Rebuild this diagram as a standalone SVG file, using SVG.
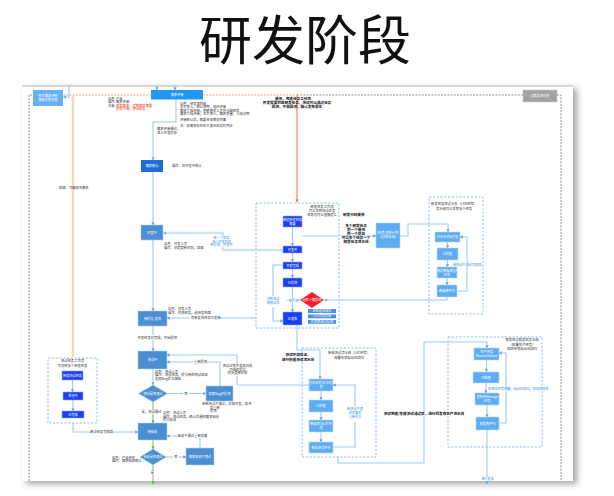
<svg xmlns="http://www.w3.org/2000/svg" width="614" height="496" viewBox="0 0 614 496">
<style>
text{font-family:"Noto Sans CJK SC","Noto Sans",sans-serif}
.t{font-size:3.3px;fill:#333}
.tb{font-size:3.6px;fill:#111;font-weight:700}
.tr{font-size:3.3px;fill:#e8332a}
.tbl{font-size:3.2px;fill:#3c8de0}
.w{font-size:3.2px;fill:#fff;text-anchor:middle}
.m{text-anchor:middle}
.bg{fill:#fff}
.c{fill:none;stroke:#9ecaf4;stroke-width:1.1;marker-end:url(#a)}
.cn{fill:none;stroke:#9ecaf4;stroke-width:1.1}
.ck{fill:none;stroke:#cfe3f8;stroke-width:2.4}
.cg{fill:none;stroke:#8cc45a;stroke-width:1.1;marker-end:url(#ag)}
.grp{fill:none;stroke:#7fb6ec;stroke-width:0.9;stroke-dasharray:2.2 1.6}
.sb{fill:#4b8fd3;stroke:#a9cdf0;stroke-width:0.6}
.lb{fill:#5eadf2;stroke:#b9dafa;stroke-width:0.6}
.db{fill:#1b3ef0;stroke:#8fb0f8;stroke-width:0.6}
</style>
<defs>
<marker id="a" viewBox="0 0 6 6" refX="5" refY="3" markerWidth="3" markerHeight="3" orient="auto"><path d="M0,0 L6,3 L0,6 z" fill="#6aa8ea"/></marker>
<marker id="ag" viewBox="0 0 6 6" refX="5" refY="3" markerWidth="3" markerHeight="3" orient="auto"><path d="M0,0 L6,3 L0,6 z" fill="#6cb33f"/></marker>
<marker id="ao" viewBox="0 0 6 6" refX="5" refY="3" markerWidth="3" markerHeight="3" orient="auto"><path d="M0,0 L6,3 L0,6 z" fill="#ef7c4e"/></marker>
<filter id="sh" x="-5%" y="-5%" width="112%" height="115%"><feDropShadow dx="4" dy="3" stdDeviation="3" flood-color="#000" flood-opacity="0.35"/></filter>
</defs>
<rect width="614" height="496" fill="#fff"/>
<text x="305" y="59.5" font-size="53" fill="#111" text-anchor="middle">研发阶段</text>
<rect x="22" y="85" width="551" height="396" fill="#fff" filter="url(#sh)"/>
<rect x="22" y="85" width="551" height="2" fill="#d8d8d8"/>
<g id="frame">
<path d="M29,481 V95 H33" fill="none" stroke="#888" stroke-width="0.9" stroke-dasharray="2 1.2"/>
<path d="M63,95 H151 M203,95 H297" fill="none" stroke="#d9a07a" stroke-width="0.9" stroke-dasharray="2 1.2"/>
<path d="M297,95 H523 M557,95 H561 V481" fill="none" stroke="#888" stroke-width="0.9" stroke-dasharray="2 1.2"/>
</g>
<g id="g-dev"><rect class="grp" x="256" y="203" width="83" height="125"/>
<text class="t m" x="322" y="208">研发任务工作流</text><text class="t m" x="322" y="212">可以关联测试任务</text><text class="t m" x="322" y="216">任务也可以直接建立</text></g>
<g id="g-lan"><rect class="grp" x="429" y="197" width="54" height="117"/>
<text class="t m" x="454" y="205">研发任务测试分支（LAN环境）</text><text class="t m" x="454" y="210">流水线可以关联多个任务</text></g>
<g id="g-test"><rect class="grp" x="48" y="358" width="49" height="65"/>
<text class="t m" x="72.5" y="362">测试任务工作流</text><text class="t m" x="72.5" y="366.5">可关联多个研发任务</text></g>
<g id="g-lat"><rect class="grp" x="302" y="348" width="74" height="109"/>
<text class="t m" x="349" y="354">集成测试流水线（LAT环境）</text><text class="t m" x="349" y="359">部署专项自动化回归</text></g>
<g id="g-prod"><rect class="grp" x="448" y="337" width="94" height="110"/>
<text class="t m" x="522" y="341">预发测试和发布流水线</text><text class="t m" x="522" y="345.5">（部署生产环境）</text><text class="t m" x="522" y="350">回测专项自动化回归</text></g>
<g id="connectors">
<path d="M73,95 V357" fill="none" stroke="#fbd8b2" stroke-width="2.4"/>
<path d="M297,95 V202" fill="none" stroke="#ef7c4e" stroke-width="1.1" marker-end="url(#ao)"/>
<path class="c" d="M69,85 V97 H63.5"/>
<path class="c" d="M157,85 V90"/>
<path class="c" d="M175,85 V90"/>
<path class="c" d="M176,99 V122 H153 V160"/>
<path class="c" d="M153,172 V225"/>
<path class="c" d="M153,240 V311"/>
<path class="ck" d="M283,250 H223 V233 H165"/>
<path d="M166,231.5 L163,233 L166,234.5 z" fill="#6aa8ea"/>
<path class="c" d="M256,318 H167"/>
<path class="c" d="M153,326 V351"/>
<path class="c" d="M292.5,227 V246"/>
<path class="c" d="M292.5,253 V262"/>
<path class="c" d="M292.5,269 V278"/>
<path class="c" d="M292.5,287 V312"/>
<path class="cn" d="M300,300 H292.5"/>
<path class="c" d="M283,265 H273 V321 H283"/>
<path class="c" d="M302,236 H376"/>
<path class="c" d="M400,236 H408 V224 H448 V232"/>
<path class="c" d="M447.5,242 V248"/>
<path class="c" d="M447.5,260 V267"/>
<path class="c" d="M447,278 V285"/>
<path class="c" d="M457,291 H467 V237 H460"/>
<path class="c" d="M447,297 V300 H324.5"/>
<path class="c" d="M297,325 V350 H320 V379"/>
<path class="c" d="M309,385 H237 V355 H167"/>
<path class="c" d="M220,386 V362 H167"/>
<path class="c" d="M153,369 V385"/>
<path class="c" d="M167.5,393.5 H206"/>
<path class="cg" d="M153,402 V423"/>
<path class="c" d="M73,423 V432 H138"/>
<path class="c" d="M200,448 V436 H167"/>
<path class="cg" d="M153,440 V449"/>
<path class="c" d="M166,457 H186"/>
<path class="cg" d="M153,465 V484"/>
<path class="c" d="M72.5,380 V392"/>
<path class="c" d="M73,400 V411"/>
<path class="c" d="M321,391 V400"/>
<path class="c" d="M321,412 V420"/>
<path class="c" d="M321,432 V442"/>
<path class="c" d="M333,447 H355 V385 H333"/>
<path class="c" d="M338,457 V463 H424 V342 H487 V348"/>
<path class="c" d="M486.5,360 V372"/>
<path class="c" d="M486,383 V393"/>
<path class="c" d="M487,405 V417"/>
<path class="c" d="M499,423 H506 V353 H499"/>
<path class="c" d="M487,430 V484"/>
</g>
<g id="n-tech"><rect x="33" y="90" width="30" height="16" fill="#66b0f5"/><text class="w" x="48" y="97">技术需求评审</text><text class="w" x="48" y="101">需要提前沟通</text></g>
<g id="n-review"><rect x="151" y="90" width="52" height="9.5" fill="#2196f3"/><text class="w" x="177" y="96">需求评审</text></g>
<g id="n-ops"><rect x="523" y="90" width="34" height="12" fill="#a3a3a3" stroke="#c8c8c8" stroke-width="0.6"/><text class="w" x="540" y="97">运维发布阶段</text></g>
<g id="n-confirm"><rect x="141" y="160" width="22" height="12" fill="#1d6fd8"/><text class="w" x="152" y="167">需求确认</text></g>
<g id="n-dev"><rect class="sb" x="141" y="225" width="22" height="15"/><text class="w" x="152" y="233.5">开发中</text></g>
<g id="n-pending"><rect class="sb" x="138" y="311" width="29" height="15"/><text class="w" x="152.5" y="319.5">待提交/发布</text></g>
<g id="n-testing"><rect class="sb" x="138" y="351" width="29" height="18"/><text class="w" x="152.5" y="361">测试中</text></g>
<g id="d-test"><polygon class="sb" points="153,385 167.5,393.5 153,402 138.5,393.5"/><text class="w" x="153" y="394.5">测试是否通过</text></g>
<g id="n-fix"><rect class="sb" x="206" y="386" width="27" height="15"/><text class="w" x="219.5" y="394.5">修复Bug并提测</text></g>
<g id="n-accept"><rect class="sb" x="138" y="423" width="29" height="17"/><text class="w" x="152.5" y="432.5">待验收</text></g>
<g id="d-accept"><polygon class="sb" points="153,449 166,457 153,465 140,457"/><text class="w" x="153" y="458">验收是否通过</text></g>
<g id="n-reject"><rect class="sb" x="186" y="448" width="28" height="17"/><text class="w" x="200" y="457.5">需求验收不通过</text></g>
<g id="n-d1"><rect class="db" x="283" y="216" width="19" height="11"/><text class="w" x="292.5" y="220.5">新建研发任务</text><text class="w" x="292.5" y="224.5">需要</text></g>
<g id="n-d2"><rect class="db" x="283" y="246" width="19" height="7"/><text class="w" x="292.5" y="250.8">开发中</text></g>
<g id="n-d3"><rect class="db" x="283" y="262" width="19" height="7"/><text class="w" x="292.5" y="266.8">开发完成</text></g>
<g id="n-d4"><rect class="db" x="283" y="278" width="19" height="9"/><text class="w" x="292.5" y="283.5">已提测</text></g>
<g id="n-d5"><rect class="db" x="283" y="312" width="19" height="13"/><text class="w" x="292.5" y="319.5">已发布</text></g>
<g id="d-red"><polygon points="312,292 324,300 312,308 300,300" fill="#f5222d"/><text class="w" x="312" y="301">是否一键提测</text></g>
<g id="n-bars"><rect x="308" y="309" width="28" height="4" fill="#4a90e2"/><text class="w" x="322" y="312">生成发布版本</text>
<rect x="308" y="314.5" width="28" height="3.8" fill="#4a90e2"/><text class="w" x="322" y="317.4">CI/CD流水线</text>
<rect x="308" y="320" width="28" height="3.8" fill="#4a90e2"/><text class="w" x="322" y="322.9">开发联调与提测</text></g>
<g id="n-plan"><rect class="lb" x="376" y="223" width="24" height="25"/><text class="w" x="388" y="234">新增/发布计划</text><text class="w" x="388" y="238">（QA流水线）</text></g>
<g id="n-l1"><rect class="lb" x="435" y="232" width="25" height="10"/><text class="w" x="447.5" y="238">代码合并&amp;打包</text></g>
<g id="n-l2"><rect class="lb" x="437" y="248" width="21" height="12"/><text class="w" x="447.5" y="255">UI检查</text></g>
<g id="n-l3"><rect class="lb" x="437" y="267" width="20" height="11"/><text class="w" x="447" y="271.5">新建数据库QA</text><text class="w" x="447" y="275.5">环境</text></g>
<g id="n-l4"><rect class="lb" x="437" y="285" width="20" height="12"/><text class="w" x="447" y="292">数据库环节</text></g>
<g id="n-t1"><rect class="db" x="62" y="371" width="21" height="9"/><text class="w" x="72.5" y="376.5">新建测试任务</text></g>
<g id="n-t2"><rect class="db" x="63" y="392" width="20" height="8"/><text class="w" x="73" y="397">处理中</text></g>
<g id="n-t3"><rect class="db" x="62" y="411" width="22" height="7"/><text class="w" x="73" y="415.5">已完成</text></g>
<g id="n-b1"><rect class="lb" x="309" y="379" width="24" height="12"/><text class="w" x="321" y="384">代码合并与LAT打</text><text class="w" x="321" y="388">包</text></g>
<g id="n-b2"><rect class="lb" x="309" y="400" width="24" height="12"/><text class="w" x="321" y="407">CI检查</text></g>
<g id="n-b3"><rect class="lb" x="309" y="420" width="24" height="12"/><text class="w" x="321" y="425">数据库与LAT环</text><text class="w" x="321" y="429">境</text></g>
<g id="n-b4"><rect class="lb" x="309" y="442" width="24" height="11"/><text class="w" x="321" y="448.5">集成测试环节</text></g>
<g id="n-c1"><rect class="lb" x="474" y="348" width="25" height="12"/><text class="w" x="486.5" y="353">生产环境</text><text class="w" x="486.5" y="357">Reconciliation</text></g>
<g id="n-c2"><rect class="lb" x="473" y="372" width="26" height="11"/><text class="w" x="486" y="378.5">UI检查</text></g>
<g id="n-c3"><rect class="lb" x="475" y="393" width="24" height="12"/><text class="w" x="487" y="398">发布到Manage</text><text class="w" x="487" y="402">环境</text></g>
<g id="n-c4"><rect class="lb" x="476" y="417" width="23" height="13"/><text class="w" x="487.5" y="424.5">预发布环节</text></g>
<g id="labels">
<text class="t" x="108" y="99.5">角色</text><text class="t" x="116" y="99.5">产品</text>
<text class="t" x="108" y="103">操作</text><text class="t" x="116" y="103">需求评审</text>
<text class="t" x="108" y="106.5">注意</text><text class="tr" x="116" y="106.5">研发需求、运维需求需要</text>
<text class="tr" x="116" y="110">提前沟通，保证研发</text>
<text class="t" x="180" y="104.5">角色：研发项目组</text>
<text class="t" x="180" y="108">总负责人，确认排期，组织评审</text>
<text class="t" x="180" y="111.5">需求文档评审，明确相关人员并分配任务</text>
<text class="t" x="180" y="115">需求文档评审，主负责人，需求质量，上线日期</text>
<text class="t" x="180" y="121">评审确认后，需要告知相关同事</text>
<text class="t" x="180" y="127">注：如需求存在较大变化应及时同步</text>
<rect class="bg" x="156" y="127" width="20" height="8"/>
<text class="t" x="157" y="130">需求评审通过，</text><text class="t" x="157" y="134">进入开发阶段</text>
<text class="t" x="172" y="167">操作：在开发中确认</text>
<text class="t" x="59" y="189">回滚、可能修改需求</text>
<text class="t" x="164" y="244.5">角色：开发人员</text>
<text class="t" x="164" y="248.5">操作：创建更新状态，回滚</text>
<rect class="bg" x="206" y="236" width="31" height="11"/>
<text class="tbl m" x="221.5" y="239">新一个任务</text><text class="tbl m" x="221.5" y="242.5">进入开发阶段</text><text class="tbl m" x="221.5" y="246">新提测、开发中</text>
<text class="t" x="168" y="310">角色：开发人员</text>
<text class="t" x="168" y="314">操作：提测任务，选择发布版</text>
<rect class="bg" x="190" y="316" width="27" height="4"/>
<text class="t" x="191" y="319.2">有新发布任务已发布</text>
<rect class="bg" x="137" y="335" width="33" height="4.5"/>
<text class="t" x="137.5" y="338.5">开发任务已完成，开始提测</text>
<rect class="bg" x="267" y="296" width="12" height="11"/>
<text class="tbl m" x="273" y="300">关联测试</text><text class="tbl m" x="273" y="304">单通过后</text>
<rect class="bg" x="286" y="298.5" width="12" height="4"/>
<text class="tbl m" x="292" y="301.5">一键提测</text>
<text class="tb" x="343" y="216">研发代码提审</text>
<text class="tb m" x="356" y="227">多个研发任务</text>
<text class="tb m" x="356" y="231">同一个提测</text>
<text class="tb m" x="356" y="235">同一个项目</text>
<text class="tb m" x="356" y="239">可以多个任务一个</text>
<text class="tb m" x="356" y="243">研发任务流水线</text>
<rect class="bg" x="458" y="262.5" width="18" height="4"/>
<text class="tbl m" x="467" y="265.5">若测试不通过可驳回</text>
<text class="tb" x="275" y="99.5">提测、完成任务工作流</text>
<text class="tb m" x="297" y="103.5">开发需要对应研发任务，测试可以通过任务</text>
<text class="tb m" x="297" y="107.5">回测，不做回测，确认发布版本</text>
<text class="tb m" x="298" y="356">测试环境验证，</text>
<text class="tb m" x="298" y="360.5">进行集成测试流水线</text>
<rect class="bg" x="225" y="364" width="25" height="12"/>
<text class="t m" x="237.5" y="367">测试过程中发现问题</text><text class="t m" x="237.5" y="370.5">可继续提交</text><text class="t m" x="237.5" y="374">同步更新状态</text>
<rect class="bg" x="194" y="360" width="13" height="4"/>
<text class="t m" x="200.5" y="363">重新提测</text>
<text class="t" x="155" y="372.5">角色：测试人员</text>
<text class="t" x="155" y="376">操作：测试任务，提交新的测试结果</text>
<text class="t" x="155" y="379.5">发现Bug提交缺陷</text>
<rect class="bg" x="183" y="391.5" width="6" height="4"/>
<text class="t m" x="186" y="394.7">否</text>
<text class="t" x="202" y="405">若新测试不通过，返回开发，修改</text>
<text class="t" x="210" y="408.5">后重新</text>
<text class="t" x="210" y="412">提测</text>
<rect class="bg" x="142" y="410" width="19" height="4"/>
<text class="t m" x="151.5" y="413">是，测试通过</text>
<text class="t" x="163" y="414">角色：测试人员</text>
<text class="t" x="163" y="417.5">操作：测试任务，确认后通知需求验收</text>
<text class="t" x="163" y="421">提交验收</text>
<rect class="bg" x="92" y="430" width="19" height="4"/>
<text class="t m" x="101.5" y="433">测试任务完成后</text>
<rect class="bg" x="180" y="434" width="25" height="4"/>
<text class="t m" x="192.5" y="437">验收不通过重新修复</text>
<text class="t" x="112" y="458.5">角色：产品经理</text>
<text class="t" x="112" y="462">操作：需求验收确认</text>
<rect class="bg" x="173" y="455" width="6" height="4"/>
<text class="t m" x="176" y="458.2">否</text>
<rect class="bg" x="149" y="471" width="7" height="4"/>
<text class="t m" x="152.5" y="474">是</text>
<rect class="bg" x="348" y="406" width="14" height="16"/>
<text class="tbl m" x="355" y="410">若测试不通</text><text class="tbl m" x="355" y="414">过修复后</text><text class="tbl m" x="355" y="418">重新提交</text>
<rect class="bg" x="384" y="411.5" width="80" height="5"/>
<text class="tb m" x="424" y="415">测试完成/集成测试通过后，进行预发布生产流水线</text>
<rect class="bg" x="487" y="387" width="37" height="4"/>
<text class="tbl" x="488" y="390">在测试环境部署，自动化回归，驳回后修改</text>
<rect class="bg" x="481" y="477" width="13" height="4"/>
<text class="tbl m" x="487.5" y="480">进行发布</text>
</g>
</svg>
